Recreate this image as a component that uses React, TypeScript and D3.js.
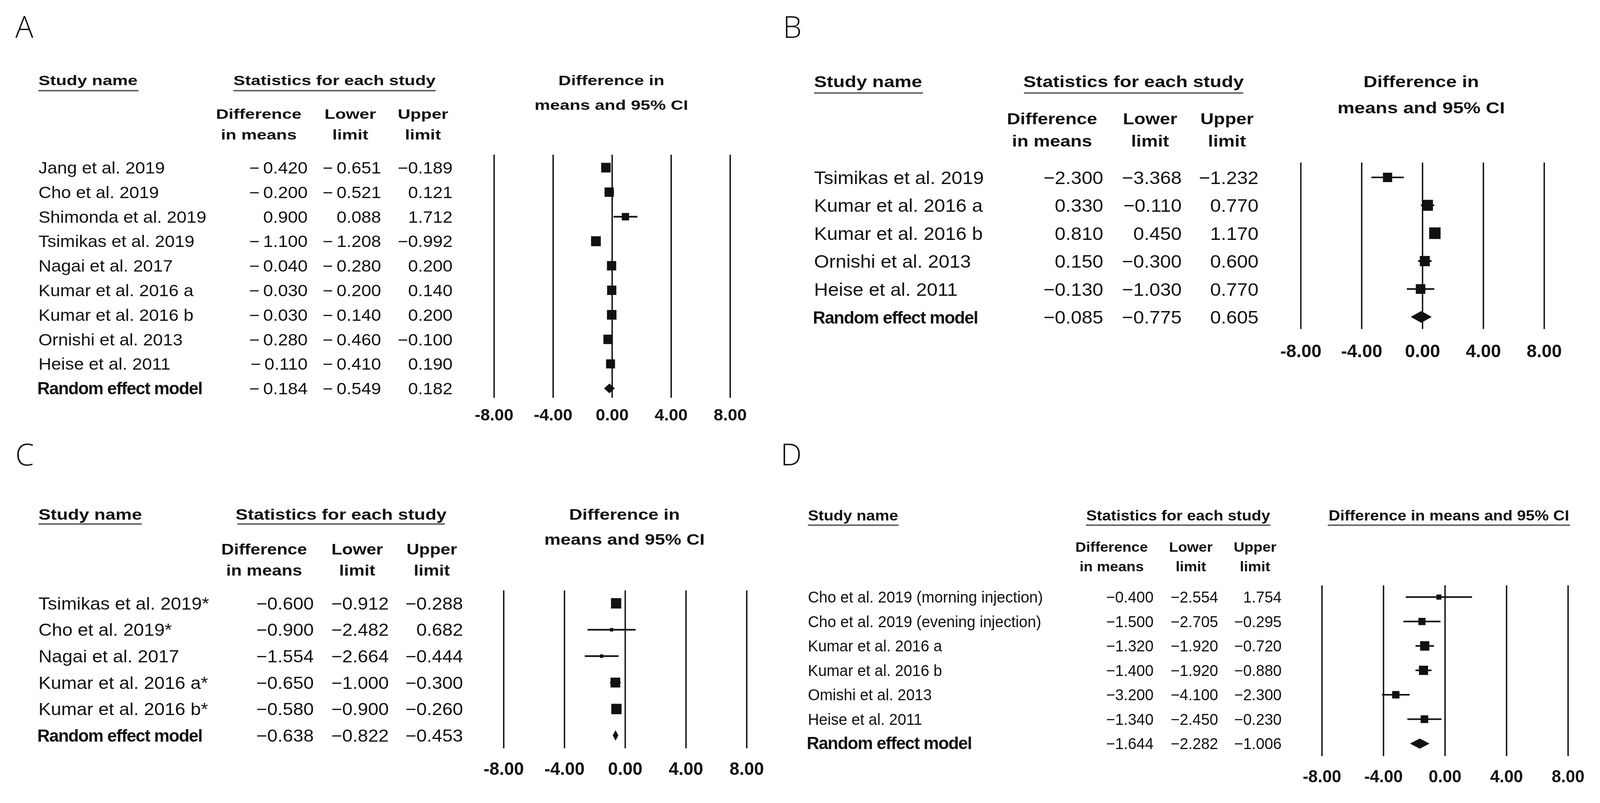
import * as d3 from 'd3'
import React from 'react'

// panel A
const studiesA = ['Jang et al. 2019', 'Cho et al. 2019', 'Shimonda et al. 2019', 'Tsimikas et al. 2019', 'Nagai et al. 2017',
  'Kumar et al. 2016 a', 'Kumar et al. 2016 b', 'Ornishi et al. 2013', 'Heise et al. 2011']
const diffA = [-0.42, -0.2, 0.9, -1.1, -0.04, -0.03, -0.03, -0.28, -0.11]
const lowerA = [-0.651, -0.521, 0.088, -1.208, -0.28, -0.2, -0.14, -0.46, -0.41]
const upperA = [-0.189, 0.121, 1.712, -0.992, 0.2, 0.14, 0.2, -0.1, 0.19]
const weightsA = [12.5, 11.8, 7.4, 13.2, 11.8, 11.8, 12.5, 11.8, 11]
const pooledA = [-0.184, -0.549, 0.182]

// panel B
const studiesB = ['Tsimikas et al. 2019', 'Kumar et al. 2016 a', 'Kumar et al. 2016 b', 'Ornishi et al. 2013', 'Heise et al. 2011']
const diffB = [-2.3, 0.33, 0.81, 0.15, -0.13]
const lowerB = [-3.368, -0.11, 0.45, -0.3, -1.03]
const upperB = [-1.232, 0.77, 1.17, 0.6, 0.77]
const weightsB = [11.8, 16, 18, 14, 12.5]
const pooledB = [-0.085, -0.775, 0.605]

// panel C
const studiesC = ['Tsimikas et al. 2019*', 'Cho et al. 2019*', 'Nagai et al. 2017', 'Kumar et al. 2016 a*', 'Kumar et al. 2016 b*']
const diffC = [-0.6, -0.9, -1.554, -0.65, -0.58]
const lowerC = [-0.912, -2.482, -2.664, -1.0, -0.9]
const upperC = [-0.288, 0.682, -0.444, -0.3, -0.26]
const weightsC = [14.5, 1.6, 1.6, 13, 14.5]
const pooledC = [-0.638, -0.822, -0.453]

// panel D
const studiesD = ['Cho et al. 2019 (morning injection)', 'Cho et al. 2019 (evening injection)', 'Kumar et al. 2016 a',
  'Kumar et al. 2016 b', 'Omishi et al. 2013', 'Heise et al. 2011']
const diffD = [-0.4, -1.5, -1.32, -1.4, -3.2, -1.34]
const lowerD = [-2.554, -2.705, -1.92, -1.92, -4.1, -2.45]
const upperD = [1.754, -0.295, -0.72, -0.88, -2.3, -0.23]
const weightsD = [3.5, 7, 11.8, 11.5, 7.4, 8]
const pooledD = [-1.644, -2.282, -1.006]

const ticks = [-8, -4, 0, 4, 8]
const pooledLabel = 'Random effect model'

const FONT = '"Liberation Sans", Arial, sans-serif'
const INK = '#111'
const tickFmt = d3.formatLocale({ decimal: '.', thousands: ',', grouping: [3], currency: ['', ''], minus: '-' }).format('.2f')
const num = d3.format('.3f')
const size = d3.scaleSqrt().domain([0, 20]).range([0, 31.3])

const T = ({ x, y, fs, sx = 1, anchor = 'start', bold = false, ls = 0, children }: any) =>
  <text transform={`translate(${x},${y}) scale(${sx},1)`} fontSize={fs} fontFamily={FONT} fill={INK}
    fontWeight={bold ? 'bold' : 'normal'} textAnchor={anchor} letterSpacing={ls}>{children}</text>

const Panel = ({ studies, diff, lower, upper, weights, pooled, L }: any) => {
  const
    x = d3.scaleLinear().domain([-8, 8]).range(L.plotX),
    rows = d3.range(studies.length + 1),
    y = d3.scalePoint<number>().domain(rows).range(L.rowY),
    cols = [diff, lower, upper],
    fmt = (v: number, c: number) => {
      const s = num(v)
      return L.gap && c < 2 && v < 0 ? '\u2212\u2009' + s.slice(1) : s
    },
    pooledRow = studies.length,
    [pe, plo, phi] = pooled,
    cy = y(pooledRow)!,
    rowBase = (i: number) => y(i)! + 0.36 * L.rowFont

  return (
    <g>
      <text x={L.letter[1]} y={L.letter[2]} fontSize={78} fontFamily='"Open Sans", "Noto Sans", sans-serif'
        fontWeight={300} fill={INK}>{L.letter[0]}</text>

      {/* headers */}
      <T x={L.studyUl[0]} y={L.hdrBase} fs={L.hdrFont} sx={L.hdrSx} bold>Study name</T>
      <line x1={L.studyUl[0]} x2={L.studyUl[1]} y1={L.ulY} y2={L.ulY} stroke='#555' strokeWidth={3.5} />
      <T x={(L.statsUl[0] + L.statsUl[1]) / 2} y={L.hdrBase} fs={L.hdrFont} sx={L.hdrSx} anchor='middle' bold>Statistics for each study</T>
      <line x1={L.statsUl[0]} x2={L.statsUl[1]} y1={L.ulY} y2={L.ulY} stroke='#555' strokeWidth={3.5} />
      {L.ciUl
        ? <>
          <T x={(L.ciUl[0] + L.ciUl[1]) / 2} y={L.hdrBase} fs={L.hdrFont} sx={L.hdrSx} anchor='middle' bold>Difference in means and 95% CI</T>
          <line x1={L.ciUl[0]} x2={L.ciUl[1]} y1={L.ulY} y2={L.ulY} stroke='#555' strokeWidth={3.5} />
        </>
        : <>
          <T x={L.ciTitleX} y={L.ciBase[0]} fs={L.hdrFont} sx={L.hdrSx} anchor='middle' bold>Difference in</T>
          <T x={L.ciTitleX} y={L.ciBase[1]} fs={L.hdrFont} sx={L.hdrSx} anchor='middle' bold>means and 95% CI</T>
        </>}
      {[['Difference', 'in means'], ['Lower', 'limit'], ['Upper', 'limit']].map((h, c) =>
        <g key={c}>
          <T x={L.colX[c]} y={L.colBase[0]} fs={L.hdrFont} sx={L.colSx} anchor='middle' bold>{h[0]}</T>
          <T x={L.colX[c]} y={L.colBase[1]} fs={L.hdrFont} sx={L.colSx} anchor='middle' bold>{h[1]}</T>
        </g>)}

      {/* table rows */}
      {studies.map((s: string, i: number) =>
        <g key={s}>
          <T x={L.labelX} y={rowBase(i)} fs={L.rowFont} sx={L.rowSx}>{s}</T>
          {cols.map((col: number[], c: number) =>
            <T key={c} x={L.numRight[c]} y={rowBase(i)} fs={L.rowFont} sx={L.rowSx} anchor='end'>{fmt(col[i], c)}</T>)}
        </g>)}
      <T x={L.labelX - 3} y={rowBase(pooledRow)} fs={45} bold ls={-1.5}>{pooledLabel}</T>
      {pooled.map((v: number, c: number) =>
        <T key={c} x={L.numRight[c]} y={rowBase(pooledRow)} fs={L.rowFont} sx={L.rowSx} anchor='end'>{fmt(v, c)}</T>)}

      {/* plot */}
      {ticks.map(t =>
        <g key={t}>
          <line x1={x(t)} x2={x(t)} y1={L.plotY[0]} y2={L.plotY[1]} stroke={INK} strokeWidth={3.6} />
          <T x={x(t)} y={L.tickBase} fs={L.tickFont} sx={L.tickSx} anchor='middle' bold>{tickFmt(t)}</T>
        </g>)}
      {studies.map((s: string, i: number) => {
        const w = size(weights[i]), yy = y(i)!
        return (
          <g key={s}>
            <line x1={x(lower[i])} x2={x(upper[i])} y1={yy} y2={yy} stroke={INK} strokeWidth={4.2} />
            <rect x={x(diff[i]) - w / 2} y={yy - w / 2} width={w} height={w} fill={INK} />
          </g>
        )
      })}
      <polygon fill={INK}
        points={[[x(plo), cy], [x(pe), cy - L.diamondH], [x(phi), cy], [x(pe), cy + L.diamondH]].map(p => p.join(',')).join(' ')} />
    </g>
  )
}

const layoutA = {
  letter: ['A', 40, 97], labelX: 100, rowY: [429, 994], rowFont: 42, rowSx: 1.1, gap: true,
  numRight: [800, 991, 1177], colX: [673, 911, 1100], colBase: [304, 357], colSx: 1.3,
  hdrBase: 218, ulY: 232, hdrFont: 35, hdrSx: 1.3, studyUl: [100, 360], statsUl: [607, 1133],
  ciTitleX: 1590, ciBase: [218, 281],
  plotX: [1285, 1899], plotY: [396, 1018], tickBase: 1076, tickFont: 42, tickSx: 1.05, diamondH: 12.5,
}
const layoutB = {
  letter: ['B', 2036, 97], labelX: 2117, rowY: [454, 811], rowFont: 47, rowSx: 1.07, gap: false,
  numRight: [2869, 3073, 3273], colX: [2736, 2991, 3191], colBase: [318, 375], colSx: 1.2,
  hdrBase: 223, ulY: 238, hdrFont: 40, hdrSx: 1.24, studyUl: [2117, 2400], statsUl: [2663, 3233],
  ciTitleX: 3696, ciBase: [223, 290],
  plotX: [3383, 4016], plotY: [416, 842], tickBase: 914, tickFont: 47, tickSx: 1.0, diamondH: 15,
}
const layoutC = {
  letter: ['C', 40, 1191], labelX: 100, rowY: [1544, 1882], rowFont: 44, rowSx: 1.1, gap: false,
  numRight: [816, 1011, 1204], colX: [687, 929, 1123], colBase: [1419, 1473], colSx: 1.2,
  hdrBase: 1330, ulY: 1341, hdrFont: 38, hdrSx: 1.25, studyUl: [100, 369], statsUl: [617, 1157],
  ciTitleX: 1624, ciBase: [1330, 1394],
  plotX: [1310, 1942], plotY: [1511, 1915], tickBase: 1983, tickFont: 46, tickSx: 1.0, diamondH: 13.5,
}
const layoutD = {
  letter: ['D', 2030, 1191], labelX: 2101, rowY: [1528, 1903], rowFont: 40, rowSx: 1.0, gap: false,
  numRight: [3000, 3168, 3333], colX: [2891, 3097, 3264], colBase: [1412, 1462], colSx: 1.07,
  hdrBase: 1332, ulY: 1344, hdrFont: 36, hdrSx: 1.15, studyUl: [2101, 2337], statsUl: [2824, 3304],
  ciUl: [3453, 4083],
  plotX: [3438, 4078], plotY: [1498, 1935], tickBase: 2002, tickFont: 44, tickSx: 1.0, diamondH: 13,
}

export default function App() {
  return (
    <>
      <style>{'html,body{margin:0;padding:0;overflow:hidden;background:#fff}'}</style>
      <svg viewBox='0 0 4161 2055' preserveAspectRatio='none'
        style={{ position: 'fixed', left: 0, top: 0, width: '100vw', height: '100vh', display: 'block' }}>
        <rect width={4161} height={2055} fill='#fff' />
        <Panel studies={studiesA} diff={diffA} lower={lowerA} upper={upperA} weights={weightsA} pooled={pooledA} L={layoutA} />
        <Panel studies={studiesB} diff={diffB} lower={lowerB} upper={upperB} weights={weightsB} pooled={pooledB} L={layoutB} />
        <Panel studies={studiesC} diff={diffC} lower={lowerC} upper={upperC} weights={weightsC} pooled={pooledC} L={layoutC} />
        <Panel studies={studiesD} diff={diffD} lower={lowerD} upper={upperD} weights={weightsD} pooled={pooledD} L={layoutD} />
      </svg>
    </>
  )
}
